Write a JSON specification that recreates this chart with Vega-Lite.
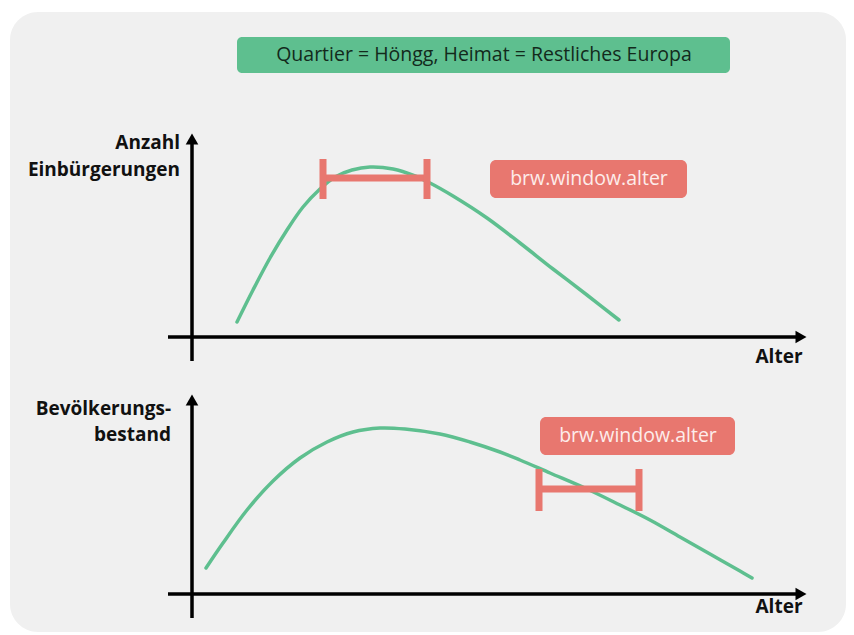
{
  "$schema": "https://vega.github.io/schema/vega-lite/v6.json",
  "width": 854,
  "height": 635,
  "autosize": {"type": "fit", "contains": "padding"},
  "padding": 0,
  "background": "#ffffff",
  "config": {"view": {"stroke": null}},
  "datasets": {
    "panel": [{"x": 10, "y": 12, "x2": 846, "y2": 632}],
    "titlebox": [{"x": 237, "y": 37, "x2": 730, "y2": 73, "cx": 484, "cy": 55, "label": "Quartier = Höngg, Heimat = Restliches Europa"}],
    "labelboxes": [
      {"x": 490, "y": 160, "x2": 687, "y2": 198, "cx": 589, "cy": 179, "label": "brw.window.alter"},
      {"x": 540, "y": 417, "x2": 735, "y2": 455, "cx": 638, "cy": 436, "label": "brw.window.alter"}
    ],
    "axes": [
      {"x": 168, "y": 337, "x2": 797, "y2": 337},
      {"x": 192, "y": 361, "x2": 192, "y2": 143},
      {"x": 168, "y": 594, "x2": 797, "y2": 594},
      {"x": 192, "y": 618, "x2": 192, "y2": 404}
    ],
    "arrowsUp": [{"x": 192, "y": 143}, {"x": 192, "y": 404}],
    "arrowsRight": [{"x": 797, "y": 337}, {"x": 797, "y": 594}],
    "curves": [
      {"serie": "Einbürgerungen", "x": 237, "y": 322},
      {"serie": "Einbürgerungen", "x": 253, "y": 290},
      {"serie": "Einbürgerungen", "x": 270, "y": 258},
      {"serie": "Einbürgerungen", "x": 287, "y": 230},
      {"serie": "Einbürgerungen", "x": 303, "y": 207},
      {"serie": "Einbürgerungen", "x": 320, "y": 189},
      {"serie": "Einbürgerungen", "x": 335, "y": 177},
      {"serie": "Einbürgerungen", "x": 352, "y": 170},
      {"serie": "Einbürgerungen", "x": 370, "y": 167},
      {"serie": "Einbürgerungen", "x": 393, "y": 169},
      {"serie": "Einbürgerungen", "x": 415, "y": 176},
      {"serie": "Einbürgerungen", "x": 430, "y": 183},
      {"serie": "Einbürgerungen", "x": 453, "y": 196},
      {"serie": "Einbürgerungen", "x": 487, "y": 218},
      {"serie": "Einbürgerungen", "x": 520, "y": 243},
      {"serie": "Einbürgerungen", "x": 553, "y": 269},
      {"serie": "Einbürgerungen", "x": 587, "y": 295},
      {"serie": "Einbürgerungen", "x": 619, "y": 320},
      {"serie": "Bestand", "x": 206, "y": 568},
      {"serie": "Bestand", "x": 223, "y": 543},
      {"serie": "Bestand", "x": 247, "y": 510},
      {"serie": "Bestand", "x": 273, "y": 481},
      {"serie": "Bestand", "x": 300, "y": 458},
      {"serie": "Bestand", "x": 327, "y": 442},
      {"serie": "Bestand", "x": 353, "y": 432},
      {"serie": "Bestand", "x": 380, "y": 428},
      {"serie": "Bestand", "x": 405, "y": 429},
      {"serie": "Bestand", "x": 440, "y": 434},
      {"serie": "Bestand", "x": 470, "y": 442},
      {"serie": "Bestand", "x": 500, "y": 452},
      {"serie": "Bestand", "x": 520, "y": 460},
      {"serie": "Bestand", "x": 550, "y": 473},
      {"serie": "Bestand", "x": 587, "y": 489},
      {"serie": "Bestand", "x": 620, "y": 505},
      {"serie": "Bestand", "x": 650, "y": 520},
      {"serie": "Bestand", "x": 680, "y": 537},
      {"serie": "Bestand", "x": 710, "y": 554},
      {"serie": "Bestand", "x": 740, "y": 571},
      {"serie": "Bestand", "x": 752, "y": 578}
    ],
    "windows": [
      {"x": 323, "y": 178, "x2": 427, "y2": 178},
      {"x": 323, "y": 159, "x2": 323, "y2": 199},
      {"x": 427, "y": 159, "x2": 427, "y2": 199},
      {"x": 539, "y": 489, "x2": 639, "y2": 489},
      {"x": 539, "y": 469, "x2": 539, "y2": 511},
      {"x": 639, "y": 469, "x2": 639, "y2": 511}
    ],
    "ylabels": [
      {"x": 180, "y": 143, "label": "Anzahl"},
      {"x": 180, "y": 170, "label": "Einbürgerungen"},
      {"x": 171, "y": 409, "label": "Bevölkerungs-"},
      {"x": 171, "y": 435, "label": "bestand"}
    ],
    "xlabels": [
      {"x": 779, "y": 357, "label": "Alter"},
      {"x": 779, "y": 607, "label": "Alter"}
    ]
  },
  "encoding": {
    "x": {"field": "x", "type": "quantitative", "scale": {"domain": [0, 854], "nice": false, "zero": false}, "axis": null},
    "y": {"field": "y", "type": "quantitative", "scale": {"domain": [0, 635], "nice": false, "zero": false, "reverse": true}, "axis": null}
  },
  "layer": [
    {
      "data": {"name": "panel"},
      "mark": {"type": "rect", "fill": "#f0f0f0", "cornerRadius": 28},
      "encoding": {"x2": {"field": "x2"}, "y2": {"field": "y2"}}
    },
    {
      "data": {"name": "titlebox"},
      "mark": {"type": "rect", "fill": "#5ebf8f", "cornerRadius": 5},
      "encoding": {"x2": {"field": "x2"}, "y2": {"field": "y2"}}
    },
    {
      "data": {"name": "titlebox"},
      "mark": {"type": "text", "font": "Open Sans", "fontSize": 19.5, "color": "#132a1c", "align": "center", "baseline": "middle"},
      "encoding": {
        "x": {"field": "cx", "type": "quantitative"},
        "y": {"field": "cy", "type": "quantitative"},
        "text": {"field": "label"}
      }
    },
    {
      "data": {"name": "labelboxes"},
      "mark": {"type": "rect", "fill": "#e8776f", "cornerRadius": 6},
      "encoding": {"x2": {"field": "x2"}, "y2": {"field": "y2"}}
    },
    {
      "data": {"name": "labelboxes"},
      "mark": {"type": "text", "font": "Open Sans", "fontSize": 19.5, "color": "#fdecea", "align": "center", "baseline": "middle"},
      "encoding": {
        "x": {"field": "cx", "type": "quantitative"},
        "y": {"field": "cy", "type": "quantitative"},
        "text": {"field": "label"}
      }
    },
    {
      "data": {"name": "curves"},
      "mark": {"type": "line", "stroke": "#5ebf8f", "strokeWidth": 3.5, "interpolate": "catmull-rom", "strokeCap": "round"},
      "encoding": {"detail": {"field": "serie", "type": "nominal"}, "order": {"field": "x", "type": "quantitative"}}
    },
    {
      "data": {"name": "windows"},
      "mark": {"type": "rule", "stroke": "#e8776f", "strokeWidth": 7},
      "encoding": {"x2": {"field": "x2"}, "y2": {"field": "y2"}}
    },
    {
      "data": {"name": "axes"},
      "mark": {"type": "rule", "stroke": "#000000", "strokeWidth": 3.5},
      "encoding": {"x2": {"field": "x2"}, "y2": {"field": "y2"}}
    },
    {
      "data": {"name": "arrowsUp"},
      "mark": {"type": "point", "shape": "triangle-up", "filled": true, "fill": "#000000", "opacity": 1, "size": 160, "yOffset": -4}
    },
    {
      "data": {"name": "arrowsRight"},
      "mark": {"type": "point", "shape": "triangle-right", "filled": true, "fill": "#000000", "opacity": 1, "size": 160, "xOffset": 4}
    },
    {
      "data": {"name": "ylabels"},
      "mark": {"type": "text", "font": "Open Sans", "fontWeight": "bold", "fontSize": 19, "color": "#111111", "align": "right", "baseline": "middle"},
      "encoding": {"text": {"field": "label"}}
    },
    {
      "data": {"name": "xlabels"},
      "mark": {"type": "text", "font": "Open Sans", "fontWeight": "bold", "fontSize": 19, "color": "#111111", "align": "center", "baseline": "middle"},
      "encoding": {"text": {"field": "label"}}
    }
  ]
}
